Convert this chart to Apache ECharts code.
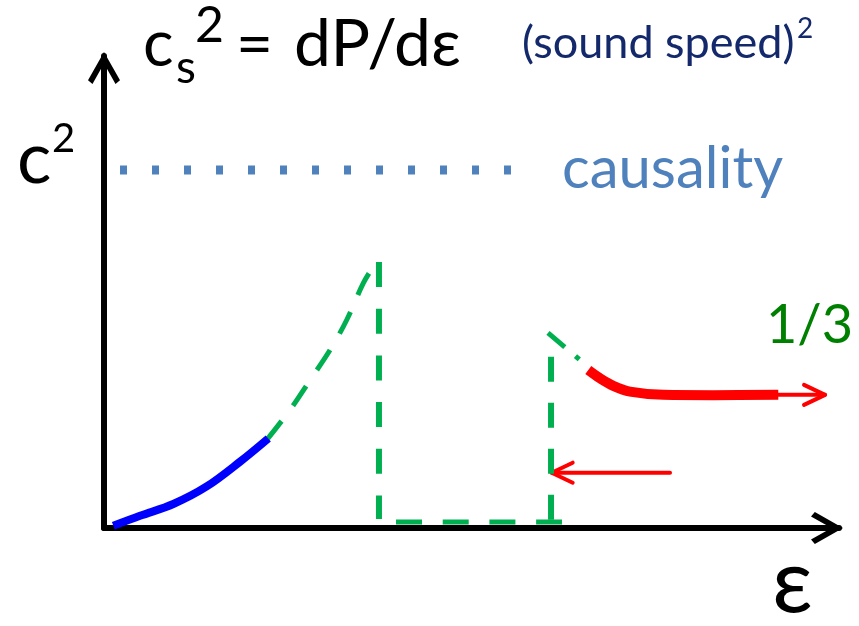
<!DOCTYPE html>
<html>
<head>
<meta charset="utf-8">
<script src="https://cdn.jsdelivr.net/npm/echarts@6/dist/echarts.min.js"></script>
<style>
html, body { margin: 0; padding: 0; background: #ffffff; }
#chart { width: 859px; height: 626px; }
</style>
</head>
<body>
<div id="chart"></div>
<script>
// Energy density ε (arbitrary units) on x, squared sound speed in units of c² on y.

// hadronic branch (solid blue)
const hadronX = [0.127, 0.490, 0.943, 1.397, 1.850, 2.235];
const hadronY = [0.006, 0.034, 0.067, 0.116, 0.185, 0.250];

// metastable continuation up to the spinodal point (dashed green)
const spinodalX = [2.214, 2.531, 2.803, 3.075, 3.302, 3.528, 3.664];
const spinodalY = [0.246, 0.330, 0.413, 0.497, 0.581, 0.684, 0.730];

// first-order transition: drop, mixed phase, rise (dashed green)
const dropX = [3.741, 3.741];
const dropY = [0.743, 0.025];
const mixedX = [3.973, 6.231];
const mixedY = [0.017, 0.017];
const riseX = [6.082, 6.082];
const riseY = [0.478, 0.017];

// quark side: short metastable piece, then the red branch
const quarkTailX = [6.041, 6.558];
const quarkTailY = [0.545, 0.455];
const quarkX = [6.589, 6.748, 6.929, 7.156, 7.610, 8.290, 9.174];
const quarkY = [0.441, 0.418, 0.397, 0.381, 0.372, 0.371, 0.372];

// causality limit c_s² = c²
const causalityX = [0.218, 5.537];
const causalityLevel = 1;

// arrows: [fromX, fromY, toX, toY]
const conformalArrow = [9.174, 0.372, 9.810, 0.372];
const backArrow = [7.701, 0.1545, 6.091, 0.1545];

const pairs = (xs, ys) => xs.map((x, i) => [x, Array.isArray(ys) ? ys[i] : ys]);

const FONT = "Lato, 'Open Sans', 'DejaVu Sans', sans-serif";
const GREEN = '#00b050';
const RED = '#ff0000';

const chevron = 'path://M50,0 L100,88 L86,100 L50,36 L14,100 L0,88 Z';

function curve(data, style, smooth) {
  return {
    type: 'line',
    data: data,
    showSymbol: false,
    symbol: 'none',
    smooth: smooth ? 0.35 : false,
    clip: false,
    silent: true,
    lineStyle: style
  };
}

function arrowItem(params, api) {
  const p0 = api.coord([api.value(0), api.value(1)]);
  const p1 = api.coord([api.value(2), api.value(3)]);
  const dx = p1[0] - p0[0], dy = p1[1] - p0[1];
  const len = Math.hypot(dx, dy);
  const ux = dx / len, uy = dy / len;
  const back = 21, half = 10;
  const w1 = [p1[0] - ux * back - uy * half, p1[1] - uy * back + ux * half];
  const w2 = [p1[0] - ux * back + uy * half, p1[1] - uy * back - ux * half];
  const st = { stroke: RED, lineWidth: 4, lineCap: 'round', lineJoin: 'round', fill: null };
  return {
    type: 'group',
    children: [
      { type: 'line', shape: { x1: p0[0], y1: p0[1], x2: p1[0], y2: p1[1] }, style: st },
      { type: 'polyline', shape: { points: [w1, p1, w2] }, style: st }
    ]
  };
}

function label(text, x, y, size, color, align) {
  return {
    type: 'text',
    x: x, y: y,
    silent: true,
    style: {
      text: text,
      font: size + 'px ' + FONT,
      fill: color,
      align: align || 'left',
      verticalAlign: 'middle'
    }
  };
}

const chart = echarts.init(document.getElementById('chart'), null, { renderer: 'canvas' });

const axisCommon = {
  type: 'value',
  axisLine: {
    show: true,
    onZero: false,
    lineStyle: { color: '#000000', width: 6 },
    symbol: ['none', chevron],
    symbolSize: [32, 36],
    symbolOffset: [0, -12]
  },
  axisTick: { show: false },
  axisLabel: { show: false },
  splitLine: { show: false }
};

chart.setOption({
  animation: false,
  backgroundColor: '#ffffff',
  grid: { left: 104, right: 20, top: 56, bottom: 98 },
  xAxis: Object.assign({}, axisCommon, { min: 0, max: 10 }),
  yAxis: Object.assign({}, axisCommon, { min: 0, max: 1.3184 }),
  series: [
    curve(pairs(causalityX, causalityLevel), { color: '#4f81bd', width: 9, type: [7, 25], cap: 'butt' }, false),
    curve(pairs(spinodalX, spinodalY), { color: GREEN, width: 5, type: [24, 19], cap: 'butt' }, true),
    curve(pairs(hadronX, hadronY), { color: '#0000ff', width: 8, cap: 'butt' }, true),
    curve(pairs(dropX, dropY), { color: GREEN, width: 6, type: [25, 21.7], cap: 'butt' }, false),
    curve(pairs(mixedX, mixedY), { color: GREEN, width: 5, type: [26, 20.7], cap: 'butt' }, false),
    curve(pairs(riseX, riseY), { color: GREEN, width: 6, type: [25, 21], cap: 'butt' }, false),
    curve(pairs(quarkTailX, quarkTailY), { color: GREEN, width: 5, type: [22, 14, 5, 60], cap: 'butt' }, false),
    curve(pairs(quarkX, quarkY), { color: RED, width: 10, cap: 'butt' }, true),
    {
      type: 'custom',
      renderItem: arrowItem,
      silent: true,
      clip: false,
      encode: { x: [0, 2], y: [1, 3] },
      data: [conformalArrow, backArrow]
    }
  ],
  graphic: [
    // y-axis scale mark
    label('c', 17, 160, 72, '#000000'),
    label('2', 52, 139, 40, '#000000'),
    // title: c_s^2 = dP/dε
    label('c', 143, 45, 64, '#000000'),
    label('s', 176, 68, 46, '#000000'),
    label('2', 195, 26, 50, '#000000'),
    label('=', 236, 45, 64, '#000000'),
    label('dP/dε', 294, 45, 66, '#000000'),
    label('(sound speed)', 522, 43, 45, '#13296b'),
    label('2', 797, 29, 28, '#13296b'),
    label('causality', 562, 169, 58, '#4f81bd'),
    label('1/3', 853, 326, 54, '#008000', 'right'),
    label('ε', 772, 583, 90, '#000000')
  ]
});
</script>
</body>
</html>
